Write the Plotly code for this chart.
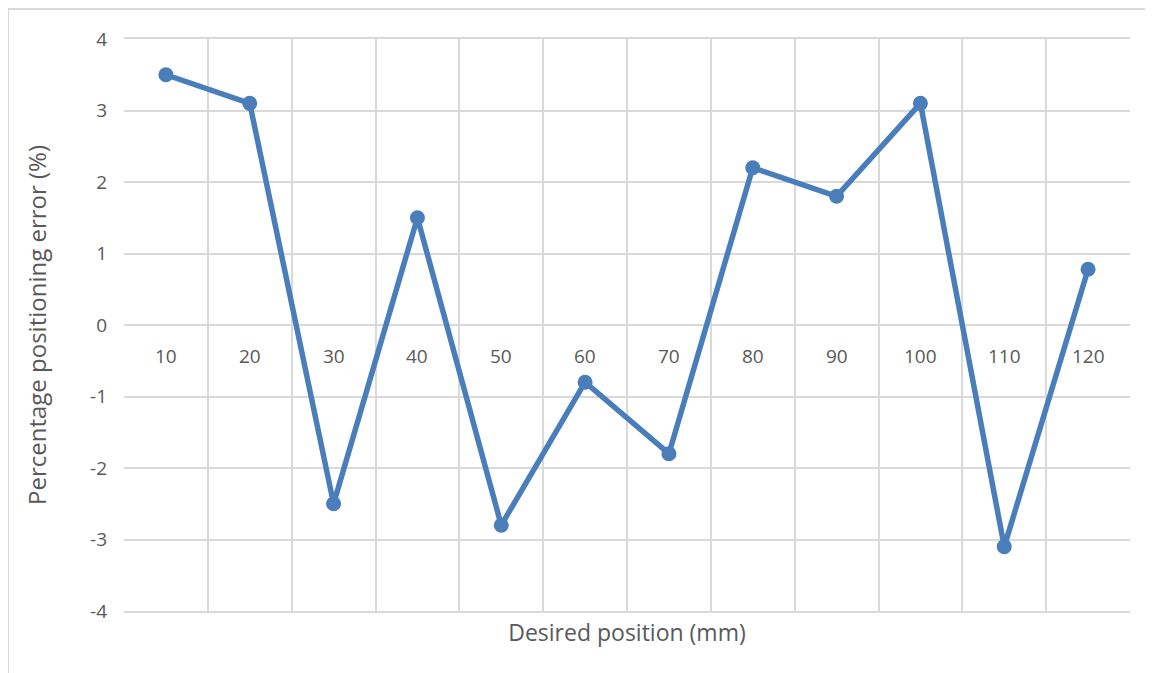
import plotly.graph_objects as go

positions = [10, 20, 30, 40, 50, 60, 70, 80, 90, 100, 110, 120]
errors = [3.5, 3.1, -2.5, 1.5, -2.8, -0.8, -1.8, 2.2, 1.8, 3.1, -3.1, 0.78]
y_ticks = [-4, -3, -2, -1, 0, 1, 2, 3, 4]
y_tick_text = ["-4", "-3", "-2", "-1", "0", "1", "2", "3", "4"]

FONT = "Open Sans"
TXT = "#595959"
GRID = "#d9d9d9"
BLUE = "#4a7ebb"

fig = go.Figure()
fig.add_trace(go.Scatter(
    x=positions, y=errors, mode="lines+markers",
    line=dict(color=BLUE, width=5.5),
    marker=dict(color=BLUE, size=15),
    showlegend=False,
))

for p in positions:
    fig.add_annotation(x=p, y=0, xref="x", yref="y", text=str(p), showarrow=False,
                       yshift=-31, font=dict(family=FONT, size=19, color=TXT))

fig.update_layout(
    width=1153, height=673,
    margin=dict(l=116, r=31, t=31, b=70),
    plot_bgcolor="white", paper_bgcolor="white",
    xaxis=dict(range=[5, 125], tick0=5, dtick=10, showticklabels=False,
               showgrid=True, gridcolor=GRID, gridwidth=1.5, zeroline=False,
               showline=True, mirror=True, linecolor=GRID, linewidth=1.5, ticks="",
               title=dict(text="Desired position (mm)", standoff=13,
                          font=dict(family=FONT, size=23, color=TXT))),
    yaxis=dict(range=[-4, 4], tickvals=y_ticks, ticktext=y_tick_text,
               showgrid=True, gridcolor=GRID, gridwidth=1.5,
               zeroline=False, showline=False, ticks="", ticklabelstandoff=16,
               tickfont=dict(family=FONT, size=19, color=TXT),
               title=dict(text="Percentage positioning error (%)", standoff=36,
                          font=dict(family=FONT, size=24, color=TXT))),
)

# outer chart border (left and top edges visible)
fig.add_shape(type="line", xref="paper", yref="paper", x0=-0.1153, x1=-0.1153, y0=1.0524, y1=-0.2,
              line=dict(color=GRID, width=2))
fig.add_shape(type="line", xref="paper", yref="paper", x0=-0.1153, x1=1.1, y0=1.0524, y1=1.0524,
              line=dict(color=GRID, width=2))

fig.write_html("out.html")
